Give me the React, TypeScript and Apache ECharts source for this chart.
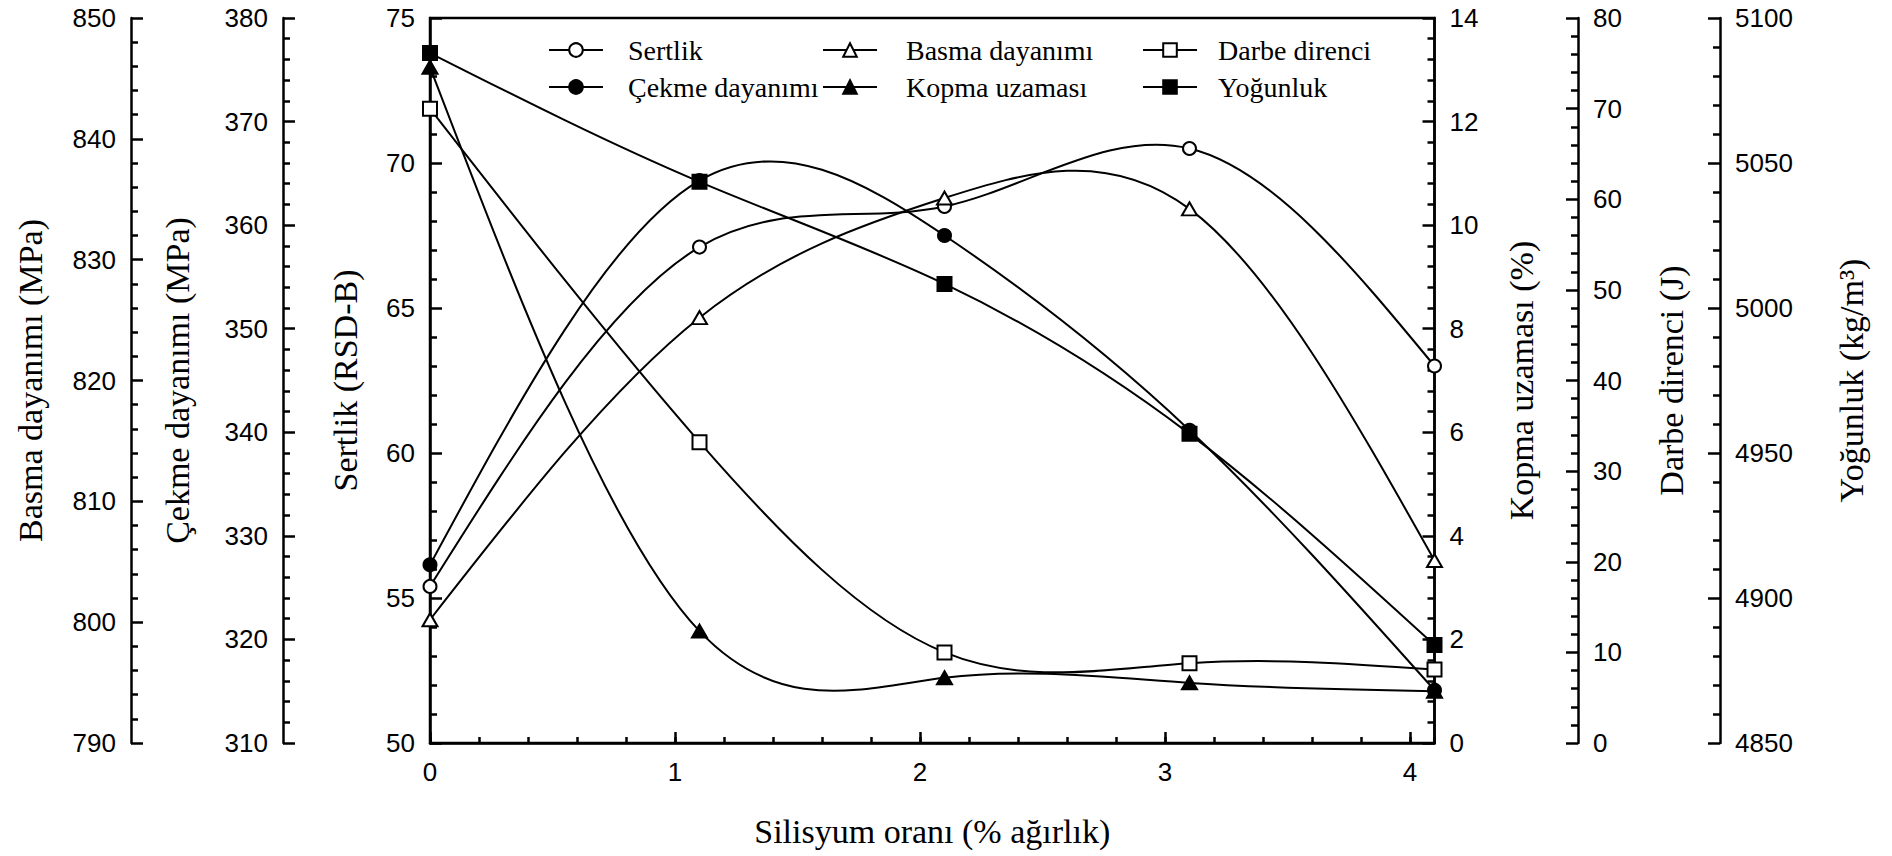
import { useEffect, useRef } from 'react';
import * as echarts from 'echarts';

// Silicon content (% by weight) of the samples
const siliconContent = [0, 1.1, 2.1, 3.1, 4.1];

// Measured properties at each silicon content
const hardness = [55.4, 67.1, 68.5, 70.5, 63.0]; // RSD-B
const tensileStrength = [327.2, 364.3, 359.0, 340.2, 315.1]; // MPa
const compressiveStrength = [800.2, 825.2, 835.1, 834.2, 805.1]; // MPa
const elongation = [13.05, 2.16, 1.26, 1.16, 1.0]; // %
const impactResistance = [70.0, 33.2, 10.0, 8.8, 8.1]; // J
const density = [5087.9, 5043.5, 5008.3, 4956.6, 4883.8]; // kg/m3

// Axis scales: title, min, max, major step
const axisTitles = [
  'Sertlik (RSD-B)',
  'Çekme dayanımı (MPa)',
  'Basma dayanımı (MPa)',
  'Kopma uzaması (%)',
  'Darbe direnci (J)',
  'Yoğunluk (kg/m³)',
];
const axisMin = [50, 310, 790, 0, 0, 4850];
const axisMax = [75, 380, 850, 14, 80, 5100];
const axisStep = [5, 10, 10, 2, 10, 50];

const xTitle = 'Silisyum oranı (% ağırlık)';

const seriesNames = [
  'Sertlik',
  'Çekme dayanımı',
  'Basma dayanımı',
  'Kopma uzaması',
  'Darbe direnci',
  'Yoğunluk',
];
const seriesValues = [
  hardness,
  tensileStrength,
  compressiveStrength,
  elongation,
  impactResistance,
  density,
];

const legendColumns = [
  ['Sertlik', 'Çekme dayanımı'],
  ['Basma dayanımı', 'Kopma uzaması'],
  ['Darbe direnci', 'Yoğunluk'],
];

// Layout of the stacked axes (left side first, then right side)
const axisPlacement = [
  { position: 'left', offset: 0, nameGap: 68 },
  { position: 'left', offset: 147, nameGap: 89 },
  { position: 'left', offset: 299, nameGap: 84 },
  { position: 'right', offset: 0, nameGap: 70 },
  { position: 'right', offset: 143.5, nameGap: 76 },
  { position: 'right', offset: 285.5, nameGap: 114 },
];

const markerStyles = [
  { symbol: 'circle', size: 13, fill: '#ffffff' },
  { symbol: 'circle', size: 13, fill: '#000000' },
  { symbol: 'triangle', size: [15, 13], fill: '#ffffff' },
  { symbol: 'triangle', size: [15, 13], fill: '#000000' },
  { symbol: 'rect', size: 14, fill: '#ffffff' },
  { symbol: 'rect', size: 14, fill: '#000000' },
];

const legendPlacement = [
  { left: 548, textShift: 20 },
  { left: 822, textShift: 24 },
  { left: 1142, textShift: 16 },
];

const SERIF = '"Liberation Serif", "Times New Roman", serif';
const SANS = '"Liberation Sans", Arial, sans-serif';

// First derivatives at the knots of a natural cubic spline through (x, y)
function naturalSplineSlopes(xs: number[], ys: number[]): number[] {
  const n = xs.length;
  const h: number[] = [];
  for (let i = 0; i < n - 1; i++) h.push(xs[i + 1] - xs[i]);
  const alpha = new Array(n).fill(0);
  for (let i = 1; i < n - 1; i++) {
    alpha[i] = (3 / h[i]) * (ys[i + 1] - ys[i]) - (3 / h[i - 1]) * (ys[i] - ys[i - 1]);
  }
  const l = new Array(n).fill(1);
  const mu = new Array(n).fill(0);
  const z = new Array(n).fill(0);
  for (let i = 1; i < n - 1; i++) {
    l[i] = 2 * (xs[i + 1] - xs[i - 1]) - h[i - 1] * mu[i - 1];
    mu[i] = h[i] / l[i];
    z[i] = (alpha[i] - h[i - 1] * z[i - 1]) / l[i];
  }
  const c = new Array(n).fill(0);
  const b = new Array(n).fill(0);
  for (let j = n - 2; j >= 0; j--) {
    c[j] = z[j] - mu[j] * c[j + 1];
    b[j] = (ys[j + 1] - ys[j]) / h[j] - (h[j] * (c[j + 1] + 2 * c[j])) / 3;
  }
  const k = n - 2;
  const d = (c[k + 1] - c[k]) / (3 * h[k]);
  b[n - 1] = b[k] + 2 * c[k] * h[k] + 3 * d * h[k] * h[k];
  return b;
}

// Smooth curve through the measured points: natural cubic spline in x,
// drawn as one Bézier piece per interval through the axis scales.
function splineSeries(name: string, ys: number[], yAxisIndex: number) {
  const xs = siliconContent;
  const slopes = naturalSplineSlopes(xs, ys);
  return {
    type: 'custom',
    name: name + ' (eğri)',
    xAxisIndex: 0,
    yAxisIndex,
    clip: false,
    silent: true,
    z: 2,
    encode: { x: 0, y: 1 },
    data: xs.map((x, i) => [x, ys[i]]),
    renderItem: (params: any, api: any) => {
      const i = params.dataIndex;
      if (i >= xs.length - 1) return null;
      const h = xs[i + 1] - xs[i];
      const p0 = api.coord([xs[i], ys[i]]);
      const p1 = api.coord([xs[i + 1], ys[i + 1]]);
      const c0 = api.coord([xs[i] + h / 3, ys[i] + (slopes[i] * h) / 3]);
      const c1 = api.coord([xs[i + 1] - h / 3, ys[i + 1] - (slopes[i + 1] * h) / 3]);
      return {
        type: 'bezierCurve',
        shape: {
          x1: p0[0],
          y1: p0[1],
          cpx1: c0[0],
          cpy1: c0[1],
          cpx2: c1[0],
          cpy2: c1[1],
          x2: p1[0],
          y2: p1[1],
        },
        style: { stroke: '#000', lineWidth: 2, fill: null },
      };
    },
  };
}

function markerSeries(k: number) {
  const m = markerStyles[k];
  return {
    type: 'line',
    name: seriesNames[k],
    xAxisIndex: 0,
    yAxisIndex: k,
    clip: false,
    z: 3,
    symbol: m.symbol,
    symbolSize: m.size,
    showSymbol: true,
    lineStyle: { width: 0, color: '#000' },
    itemStyle: { color: m.fill, borderColor: '#000', borderWidth: 2 },
    data: siliconContent.map((x, i) => [x, seriesValues[k][i]]),
  };
}

const axisLineStyle = { color: '#000', width: 2.5 };

export default function App() {
  const ref = useRef<HTMLDivElement>(null);

  useEffect(() => {
    if (!ref.current) return;
    const chart = echarts.init(ref.current, undefined, { renderer: 'svg' });

    const yAxis = axisTitles.map((title, k) => ({
      type: 'value',
      min: axisMin[k],
      max: axisMax[k],
      interval: axisStep[k],
      position: axisPlacement[k].position,
      offset: axisPlacement[k].offset,
      name: title,
      nameLocation: 'middle',
      nameRotate: 90,
      nameGap: axisPlacement[k].nameGap,
      nameTextStyle: { fontFamily: SERIF, fontSize: 34, color: '#000' },
      axisLine: { show: true, onZero: false, lineStyle: axisLineStyle },
      axisTick: { show: true, inside: true, length: 12, lineStyle: axisLineStyle },
      minorTick: { show: true, splitNumber: 5, length: 7, lineStyle: axisLineStyle },
      axisLabel: {
        fontFamily: SANS,
        fontSize: 26,
        color: '#000',
        margin: 15,
        formatter: (v: number) => String(v),
      },
      splitLine: { show: false },
      minorSplitLine: { show: false },
    }));

    const option = {
      animation: false,
      backgroundColor: '#ffffff',
      grid: {
        left: 430,
        top: 18,
        width: 1004.5,
        height: 725,
        show: true,
        borderColor: '#000',
        borderWidth: 2.5,
        backgroundColor: 'transparent',
      },
      xAxis: [
        {
          type: 'value',
          min: 0,
          max: 4.1,
          interval: 1,
          position: 'bottom',
          name: xTitle,
          nameLocation: 'middle',
          nameGap: 71,
          nameTextStyle: { fontFamily: SERIF, fontSize: 34, color: '#000' },
          axisLine: { show: true, onZero: false, lineStyle: axisLineStyle },
          axisTick: { show: true, inside: true, length: 11, lineStyle: axisLineStyle },
          axisLabel: {
            fontFamily: SANS,
            fontSize: 26,
            color: '#000',
            margin: 16,
            showMaxLabel: false,
          },
          splitLine: { show: false },
        },
        {
          type: 'value',
          min: 0,
          max: 4.1,
          interval: 0.2,
          position: 'bottom',
          axisLine: { show: false, onZero: false },
          axisTick: { show: true, inside: true, length: 6, lineStyle: axisLineStyle },
          axisLabel: { show: false },
          splitLine: { show: false },
        },
      ],
      yAxis,
      legend: legendColumns.map((names, k) => ({
        data: names,
        orient: 'vertical',
        left: legendPlacement[k].left,
        top: 36,
        padding: 0,
        itemGap: 9,
        itemWidth: 54,
        itemHeight: 17,
        selectedMode: false,
        lineStyle: { color: '#000', width: 2, opacity: 1 },
        textStyle: {
          fontFamily: SERIF,
          fontSize: 28,
          color: '#000',
          padding: [0, 0, 0, legendPlacement[k].textShift],
        },
      })),
      series: [
        ...seriesValues.map((vals, k) => splineSeries(seriesNames[k], vals, k)),
        ...seriesValues.map((_, k) => markerSeries(k)),
      ],
    };

    chart.setOption(option as any);
    return () => chart.dispose();
  }, []);

  return (
    <div
      ref={ref}
      style={{ position: 'absolute', left: 0, top: 0, width: 1892, height: 856, background: '#fff' }}
    />
  );
}
